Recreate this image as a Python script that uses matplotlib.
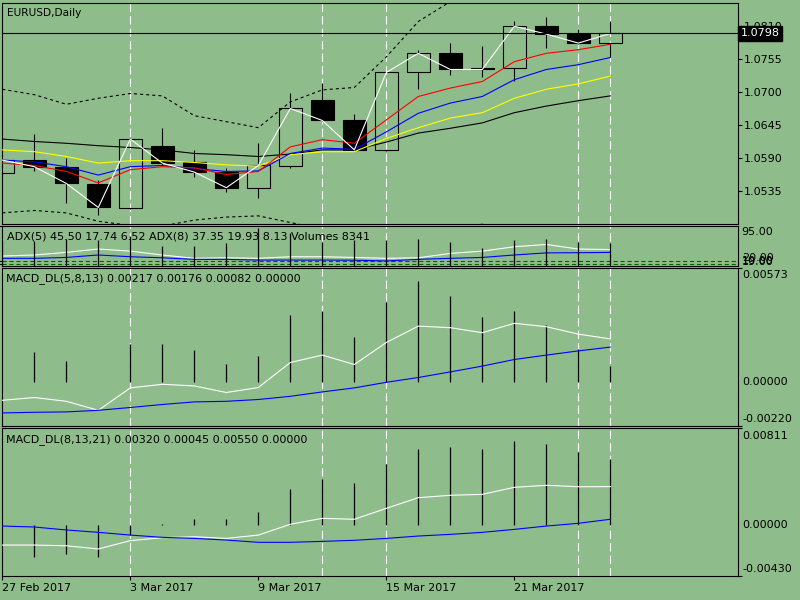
import matplotlib
matplotlib.use("Agg")
import matplotlib.pyplot as plt
import numpy as np

plt.rcParams['font.family'] = ['DejaVu Sans']
plt.rcParams['lines.scale_dashes'] = False

# ---------------- data ----------------
dates = ['27 Feb', '28 Feb', '1 Mar', '2 Mar', '3 Mar', '6 Mar', '7 Mar', '8 Mar', '9 Mar', '10 Mar',
         '13 Mar', '14 Mar', '15 Mar', '16 Mar', '17 Mar', '20 Mar', '21 Mar', '22 Mar', '23 Mar', '24 Mar']
opens  = [1.0565, 1.0587, 1.0576, 1.0547, 1.0507, 1.0611, 1.0583, 1.0567, 1.0540, 1.0577,
          1.0687, 1.0654, 1.0603, 1.0733, 1.0765, 1.0740, 1.0740, 1.0810, 1.0797, 1.0782]
highs  = [1.0592, 1.0631, 1.0591, 1.0553, 1.0623, 1.0641, 1.0604, 1.0574, 1.0615, 1.0699,
          1.0716, 1.0664, 1.0734, 1.0771, 1.0782, 1.0777, 1.0819, 1.0826, 1.0806, 1.0818]
lows   = [1.0560, 1.0569, 1.0515, 1.0495, 1.0506, 1.0578, 1.0558, 1.0534, 1.0524, 1.0573,
          1.0652, 1.0602, 1.0602, 1.0705, 1.0728, 1.0725, 1.0719, 1.0774, 1.0780, 1.0758]
closes = [1.0587, 1.0576, 1.0548, 1.0508, 1.0622, 1.0582, 1.0567, 1.0541, 1.0578, 1.0673,
          1.0653, 1.0604, 1.0733, 1.0765, 1.0738, 1.0738, 1.0810, 1.0797, 1.0782, 1.0798]

ma_red    = [1.0582, 1.0578, 1.0568, 1.0549, 1.0571, 1.0576, 1.0574, 1.0563, 1.0568, 1.0609,
             1.0621, 1.0615, 1.0654, 1.0693, 1.0707, 1.0718, 1.0751, 1.0765, 1.0771, 1.0780]
ma_blue   = [1.0587, 1.0584, 1.0576, 1.0562, 1.0576, 1.0578, 1.0573, 1.0568, 1.0569, 1.0598,
             1.0607, 1.0605, 1.0634, 1.0665, 1.0682, 1.0693, 1.0721, 1.0738, 1.0746, 1.0758]
ma_yellow = [1.0604, 1.0601, 1.0593, 1.0582, 1.0586, 1.0586, 1.0583, 1.0579, 1.0577, 1.0596,
             1.0601, 1.0601, 1.0623, 1.0641, 1.0657, 1.0666, 1.0690, 1.0705, 1.0714, 1.0727]
ma_black  = [1.0622, 1.0618, 1.0615, 1.0611, 1.0608, 1.0604, 1.0598, 1.0596, 1.0593, 1.0597,
             1.0604, 1.0604, 1.0617, 1.0632, 1.0640, 1.0649, 1.0666, 1.0677, 1.0686, 1.0694]
band_up   = [1.0705, 1.0696, 1.0680, 1.0690, 1.0698, 1.0694, 1.0661, 1.0651, 1.0641, 1.0684,
             1.0704, 1.0708, 1.0759, 1.0818, 1.0851, 1.0875, 1.0890, 1.0900, 1.0910, 1.0915]
band_dn   = [1.0499, 1.0503, 1.0499, 1.0485, 1.0478, 1.0477, 1.0487, 1.0492, 1.0494, 1.0483,
             1.0472, 1.0468, 1.0462, 1.0468, 1.0476, 1.0480, 1.0470, 1.0470, 1.0470, 1.0472]
price_ticks = [1.0535, 1.0590, 1.0645, 1.0700, 1.0755, 1.0810]

adx5 = [27, 30, 37.5, 47, 41, 30, 20.5, 22, 20.5, 25, 25, 23, 20.5, 22, 34.5, 41, 53.5, 60, 47, 45.5]
adx8 = [20.5, 20.5, 23, 30, 25, 22, 17.5, 17.5, 15.5, 15.5, 15.5, 15, 13, 17.5, 20.5, 23, 30, 36, 36.5, 37.35]
adx_levels = [12.5, 5.5]
volumes = [9000, 9180, 10020, 9540, 11000, 7340, 7340, 8550, 14060, 12220,
           8810, 9540, 9540, 10020, 8810, 6500, 9540, 9800, 8810, 8341]

m1_hist  = [0.0, 0.00149, 0.00106, 0.0, 0.00191, 0.00191, 0.00161, 0.00091, 0.00132, 0.00336,
            0.00356, 0.00227, 0.00400, 0.00507, 0.00431, 0.00325, 0.00356, 0.00286, 0.00166, 0.00082]
m1_white = [-0.0009, -0.00076, -0.00095, -0.0014, -0.00028, -0.0001, -0.00018, -0.00051, -0.00026, 0.00099,
            0.00136, 0.00089, 0.00199, 0.00281, 0.00273, 0.00248, 0.00295, 0.00278, 0.00241, 0.00217]
m1_blue  = [-0.00153, -0.0015, -0.00148, -0.0014, -0.00126, -0.00111, -0.00098, -0.00095, -0.00086, -0.0007,
            -0.00048, -0.00028, 0.0, 0.00024, 0.00052, 0.00081, 0.00114, 0.00136, 0.00157, 0.00176]

m2_hist  = [0.0, -0.0027, -0.00245, -0.0027, -0.00088, 0.00008, 0.00047, 0.00047, 0.00106, 0.0030,
            0.00384, 0.00348, 0.0051, 0.00637, 0.00651, 0.00637, 0.00704, 0.00676, 0.00609, 0.0055]
m2_white = [-0.00172, -0.00172, -0.00178, -0.00205, -0.00135, -0.0011, -0.00102, -0.00116, -0.00088, 0.00003,
            0.00053, 0.00045, 0.00137, 0.00227, 0.00247, 0.00255, 0.00314, 0.00331, 0.00319, 0.0032]
m2_blue  = [-0.00012, -0.0002, -0.00045, -0.00065, -0.00088, -0.00107, -0.00116, -0.0013, -0.00149, -0.00149,
            -0.00141, -0.00132, -0.00116, -0.00096, -0.00082, -0.00065, -0.0004, -0.00012, 0.00011, 0.00045]

sep_idx = [4, 10, 12, 18, 19]
date_tick_idx = [0, 4, 8, 12, 16]
date_tick_labels = ['27 Feb 2017', '3 Mar 2017', '9 Mar 2017', '15 Mar 2017', '21 Mar 2017']

# ---------------- style ----------------
BG = '#8fbc8b'
FS = 8.0
FS_T = 7.6
LW = 0.8
W, H = 800, 600
fig = plt.figure(figsize=(8, 6), dpi=100, facecolor=BG)

def px_axes(top, bottom, left=2, right=738):
    a = fig.add_axes([left / W, 1 - bottom / H, (right - left) / W, (bottom - top) / H])
    a.set_facecolor(BG)
    for s in a.spines.values():
        s.set_color('black'); s.set_linewidth(LW)
    a.set_xlim(-0.01, 22.99)
    a.tick_params(axis='x', bottom=False, labelbottom=False)
    a.yaxis.tick_right()
    a.tick_params(axis='y', direction='out', length=3, width=LW, pad=1.5,
                  labelsize=FS, colors='black')
    return a

ax = px_axes(2.7, 223.5)
ax_adx = px_axes(226, 265.5)
ax_m1 = px_axes(267.7, 426.3)
ax_m2 = px_axes(428.3, 575.7)
xs = np.arange(len(dates))

for a in (ax, ax_adx, ax_m1, ax_m2):
    for k in sep_idx:
        a.axvline(xs[k], color='white', lw=LW, ls=(0, (6, 3)), zorder=1)

# ---------------- main price panel ----------------
ax.set_ylim(1.04813, 1.08493)
o = np.array(opens); c = np.array(closes); h = np.array(highs); l = np.array(lows)
top = np.maximum(o, c); bot = np.minimum(o, c)
ax.vlines(xs, top, h, color='black', lw=LW, zorder=2)
ax.vlines(xs, l, bot, color='black', lw=LW, zorder=2)
bull = c >= o
body_h = np.maximum(top - bot, 0.00012)
ax.bar(xs[bull], body_h[bull], bottom=bot[bull], width=0.7, facecolor='none',
       edgecolor='black', lw=LW, zorder=2)
ax.bar(xs[~bull], body_h[~bull], bottom=bot[~bull], width=0.7, facecolor='black',
       edgecolor='black', lw=LW, zorder=2)

ax.plot(xs, band_up, color='black', lw=LW, ls=(0, (2.2, 2.2)), zorder=3)
ax.plot(xs, band_dn, color='black', lw=LW, ls=(0, (2.2, 2.2)), zorder=3)
ax.plot(xs, ma_black, color='black', lw=LW, zorder=3)
ax.plot(xs, ma_yellow, color='#ffff00', lw=LW, zorder=3)
ax.plot(xs, ma_blue, color='#0000ff', lw=LW, zorder=3)
ax.plot(xs, ma_red, color='#ff0000', lw=LW, zorder=3)
ax.plot(xs, closes, color='white', lw=LW, zorder=4)
ax.axhline(closes[-1], color='black', lw=LW, zorder=4)

ax.set_yticks(price_ticks)
ax.set_yticklabels([f'{v:.4f}' for v in price_ticks])
ax.text(1.0035, closes[-1], f'{closes[-1]:.4f}', transform=ax.get_yaxis_transform(),
        ha='left', va='center', color='white', fontsize=FS, zorder=10, clip_on=False,
        bbox=dict(facecolor='black', edgecolor='black', pad=1.6))
ax.text(0.0065, 0.955, 'EURUSD,Daily', transform=ax.transAxes, ha='left', va='center',
        fontsize=FS_T, color='black')

# ---------------- ADX + volumes panel ----------------
ax_adx.set_ylim(0, 112.7)
for lv in adx_levels:
    ax_adx.axhline(lv, color='#006400', lw=LW, ls=(0, (3, 2)), zorder=2)
ax_adx.plot(xs, adx5, color='white', lw=LW, zorder=3)
ax_adx.plot(xs, adx8, color='#0000ff', lw=LW, zorder=3)
ax_adx.set_yticks([112.7] + adx_levels)
ax_adx.set_yticklabels([])
for val, lab in [(95, '95.00'), (20, '20.00'), (12.5, '10.00'), (9, '19.00')]:
    ax_adx.text(1.005, val, lab, transform=ax_adx.get_yaxis_transform(), ha='left',
                va='center', fontsize=FS, clip_on=False)
ax_adx.text(0.0064, 0.73, f'ADX(5) {adx5[-1]:.2f} 17.74 6.52 ADX(8) {adx8[-1]:.2f} 19.93 8.13 '
            f'Volumes {volumes[-1]}', transform=ax_adx.transAxes, ha='left', va='center',
            fontsize=FS, zorder=1)
ax_vol = ax_adx.twinx()
ax_vol.set_ylim(0, 14700)
ax_vol.set_xlim(-0.01, 22.99)
ax_vol.vlines(xs, 0, volumes, color='black', lw=0.9)
ax_vol.set_axis_off()

# ---------------- MACD panels ----------------
def macd_panel(a, lo, hi, hist, white, blue, title):
    a.set_ylim(lo, hi)
    a.vlines(xs, 0, hist, color='black', lw=0.9, zorder=2)
    a.plot(xs, white, color='white', lw=LW, zorder=3)
    a.plot(xs, blue, color='#0000ff', lw=LW, zorder=3)
    a.set_yticks([lo, hi]); a.set_yticklabels([])
    tr = a.get_yaxis_transform()
    a.annotate(f'{hi:.5f}', xy=(1, hi), xycoords=tr, xytext=(4, -7.4),
               textcoords='offset pixels', ha='left', va='center', fontsize=FS)
    a.annotate(f'{0:.5f}', xy=(1, 0), xycoords=tr, xytext=(4, 0),
               textcoords='offset pixels', ha='left', va='center', fontsize=FS)
    a.annotate(f'{lo:.5f}', xy=(1, lo), xycoords=tr, xytext=(4, 7.2),
               textcoords='offset pixels', ha='left', va='center', fontsize=FS)
    a.annotate(title, xy=(0, 1), xycoords='axes fraction', xytext=(4.5, -11),
               textcoords='offset pixels', ha='left', va='center', fontsize=FS)

macd_panel(ax_m1, -0.00220, 0.00573, m1_hist, m1_white, m1_blue,
           f'MACD_DL(5,8,13) {m1_white[-1]:.5f} {m1_blue[-1]:.5f} {m1_hist[-1]:.5f} 0.00000')
macd_panel(ax_m2, -0.00430, 0.00811, m2_hist, m2_white, m2_blue,
           f'MACD_DL(8,13,21) {m2_white[-1]:.5f} {m2_blue[-1]:.5f} {m2_hist[-1]:.5f} 0.00000')

ax_m2.set_xticks([xs[k] for k in date_tick_idx])
ax_m2.set_xticklabels(date_tick_labels)
ax_m2.tick_params(axis='x', bottom=True, labelbottom=True, direction='out', length=3,
                  width=LW, pad=2.5, labelsize=FS, colors='black')
for t in ax_m2.get_xticklabels():
    t.set_ha('left')

fig.savefig('out.png', dpi=100, facecolor=BG)
